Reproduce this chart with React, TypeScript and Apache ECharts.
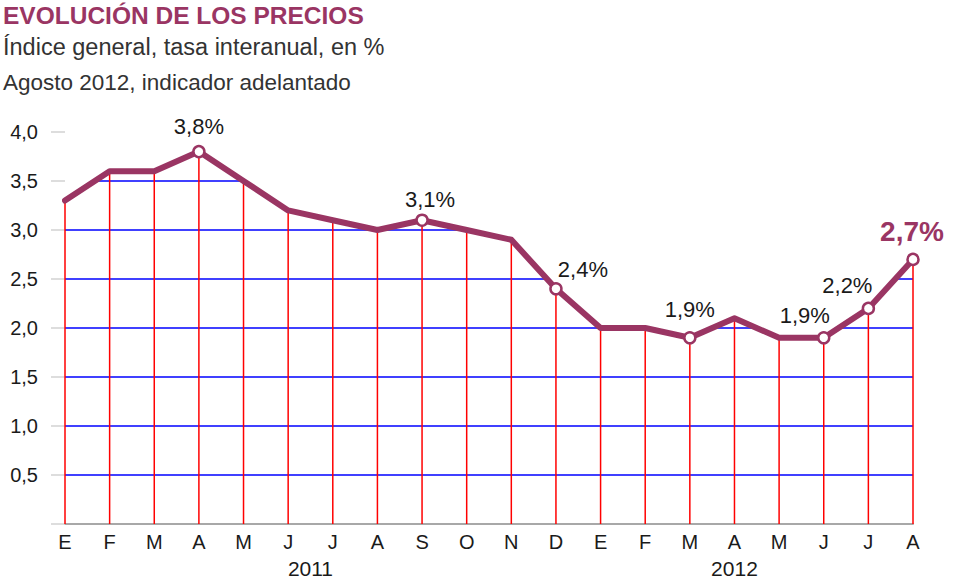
import React, { useEffect, useRef } from "react";
import * as echarts from "echarts";

const categories = ["E", "F", "M", "A", "M", "J", "J", "A", "S", "O", "N", "D", "E", "F", "M", "A", "M", "J", "J", "A"];
const values = [3.3, 3.6, 3.6, 3.8, 3.5, 3.2, 3.1, 3.0, 3.1, 3.0, 2.9, 2.4, 2.0, 2.0, 1.9, 2.1, 1.9, 1.9, 2.2, 2.7];
const labeledIndices = [3, 8, 11, 14, 17, 18, 19];
const highlightIndex = 19;
const yMin = 0;
const yMax = 4;
const yInterval = 0.5;
const gridValues = [0.5, 1.0, 1.5, 2.0, 2.5, 3.0, 3.5];
const years = ["2011", "2012"];
const yearCenters = [5.5, 15];
const title = "EVOLUCIÓN DE LOS PRECIOS";
const subtitle1 = "Índice general, tasa interanual, en %";
const subtitle2 = "Agosto 2012, indicador adelantado";

const MAROON = "#9a3563";
const GRID = "#d2d2d2";
const FONT = "'Liberation Sans', Arial, Helvetica, sans-serif";

const labelOffsets: Record<number, [number, number]> = {
  3: [0, -25],
  8: [8, -21],
  11: [27, -19],
  14: [0, -28],
  17: [-19, -22],
  18: [-21, -23],
  19: [-1, -28],
};

const fmt = (v: number) => v.toFixed(1).replace(".", ",");

export default function App() {
  const ref = useRef<HTMLDivElement>(null);

  useEffect(() => {
    document.body.style.margin = "0";
    if (!ref.current) return;
    const chart = echarts.init(ref.current, undefined, { renderer: "svg" });

    const lineData = values.map((v, i) => {
      const labeled = labeledIndices.includes(i);
      const hl = i === highlightIndex;
      return {
        value: v,
        symbol: labeled ? "circle" : "none",
        symbolSize: labeled ? 11 : 0,
        label: labeled
          ? {
              show: true,
              position: "inside",
              offset: labelOffsets[i] || [0, -24],
              formatter: fmt(v) + "%",
              color: hl ? MAROON : "#1a1a1a",
              fontSize: hl ? 28 : 22,
              fontWeight: hl ? "bold" : "normal",
              fontFamily: FONT,
            }
          : { show: false },
      };
    });

    const textGraphics = [
      { id: "title", type: "text", left: 3, top: 3, style: { text: title, fill: MAROON, font: `bold 24.5px ${FONT}` } },
      { id: "sub1", type: "text", left: 3, top: 35, style: { text: subtitle1, fill: "#333333", font: `23.5px ${FONT}` } },
      { id: "sub2", type: "text", left: 3, top: 71, style: { text: subtitle2, fill: "#333333", font: `22.5px ${FONT}` } },
    ];

    chart.setOption({
      animation: false,
      grid: { show: false, left: 65, right: 67, top: 132, bottom: 59, containLabel: false },
      xAxis: {
        type: "category",
        data: categories,
        boundaryGap: false,
        axisLine: { show: true, lineStyle: { color: "#a8a8a8", width: 2 } },
        axisTick: { show: false },
        axisLabel: { color: "#1a1a1a", fontSize: 20, fontFamily: FONT, margin: 8, interval: 0 },
        splitLine: { show: false },
      },
      yAxis: {
        type: "value",
        min: yMin,
        max: yMax,
        interval: yInterval,
        axisLine: { show: false },
        axisTick: { show: true, length: 14, lineStyle: { color: GRID, width: 1.5 } },
        axisLabel: {
          color: "#1a1a1a",
          fontSize: 20,
          fontFamily: FONT,
          margin: 27,
          formatter: (v: number) => (v === 0 ? "" : fmt(v)),
        },
        splitLine: { show: false },
      },
      series: [
        {
          type: "custom",
          z: 1,
          silent: true,
          clip: false,
          data: gridValues.map((v) => [0, v]),
          renderItem: (params: any, api: any) => {
            const v = api.value(1);
            const children: any[] = [];
            for (let i = 0; i < values.length - 1; i++) {
              const va = values[i];
              const vb = values[i + 1];
              const a = api.coord([i, v]);
              const b = api.coord([i + 1, v]);
              let x1: number | null = null;
              let x2: number | null = null;
              if (va >= v && vb >= v) {
                x1 = a[0];
                x2 = b[0];
              } else if (va >= v && vb < v) {
                x1 = a[0];
                x2 = a[0] + ((va - v) / (va - vb)) * (b[0] - a[0]);
              } else if (va < v && vb >= v) {
                x1 = a[0] + ((v - va) / (vb - va)) * (b[0] - a[0]);
                x2 = b[0];
              }
              if (x1 !== null && x2 !== null) {
                children.push({ type: "line", shape: { x1, y1: a[1], x2, y2: a[1] }, style: { stroke: "#0000ff", lineWidth: 1.5 } });
              }
            }
            return { type: "group", children };
          },
        },
        {
          type: "custom",
          z: 1,
          silent: true,
          clip: false,
          data: values.map((v, i) => [i, v]),
          renderItem: (params: any, api: any) => {
            const i = api.value(0);
            const v = api.value(1);
            const a = api.coord([i, yMin]);
            const b = api.coord([i, v]);
            return { type: "line", shape: { x1: a[0], y1: a[1], x2: b[0], y2: b[1] }, style: { stroke: "#ff0000", lineWidth: 1.5 } };
          },
        },
        {
          type: "line",
          data: lineData,
          z: 5,
          lineStyle: { color: MAROON, width: 6, join: "round", cap: "round" },
          itemStyle: { color: "#ffffff", borderColor: MAROON, borderWidth: 2.5 },
          showSymbol: true,
        },
      ],
      graphic: textGraphics,
    });

    const p0 = chart.convertToPixel({ xAxisIndex: 0 }, 0) as number;
    const p1 = chart.convertToPixel({ xAxisIndex: 0 }, 1) as number;
    const step = p1 - p0;
    chart.setOption({
      graphic: [
        ...textGraphics,
        ...years.map((y, i) => ({
          id: "year" + i,
          type: "text",
          x: p0 + yearCenters[i] * step,
          y: 568,
          style: { text: y, fill: "#1a1a1a", font: `21px ${FONT}`, align: "center", verticalAlign: "middle" },
        })),
      ],
    });

    return () => chart.dispose();
  }, []);

  return <div ref={ref} style={{ width: 980, height: 583 }} />;
}
